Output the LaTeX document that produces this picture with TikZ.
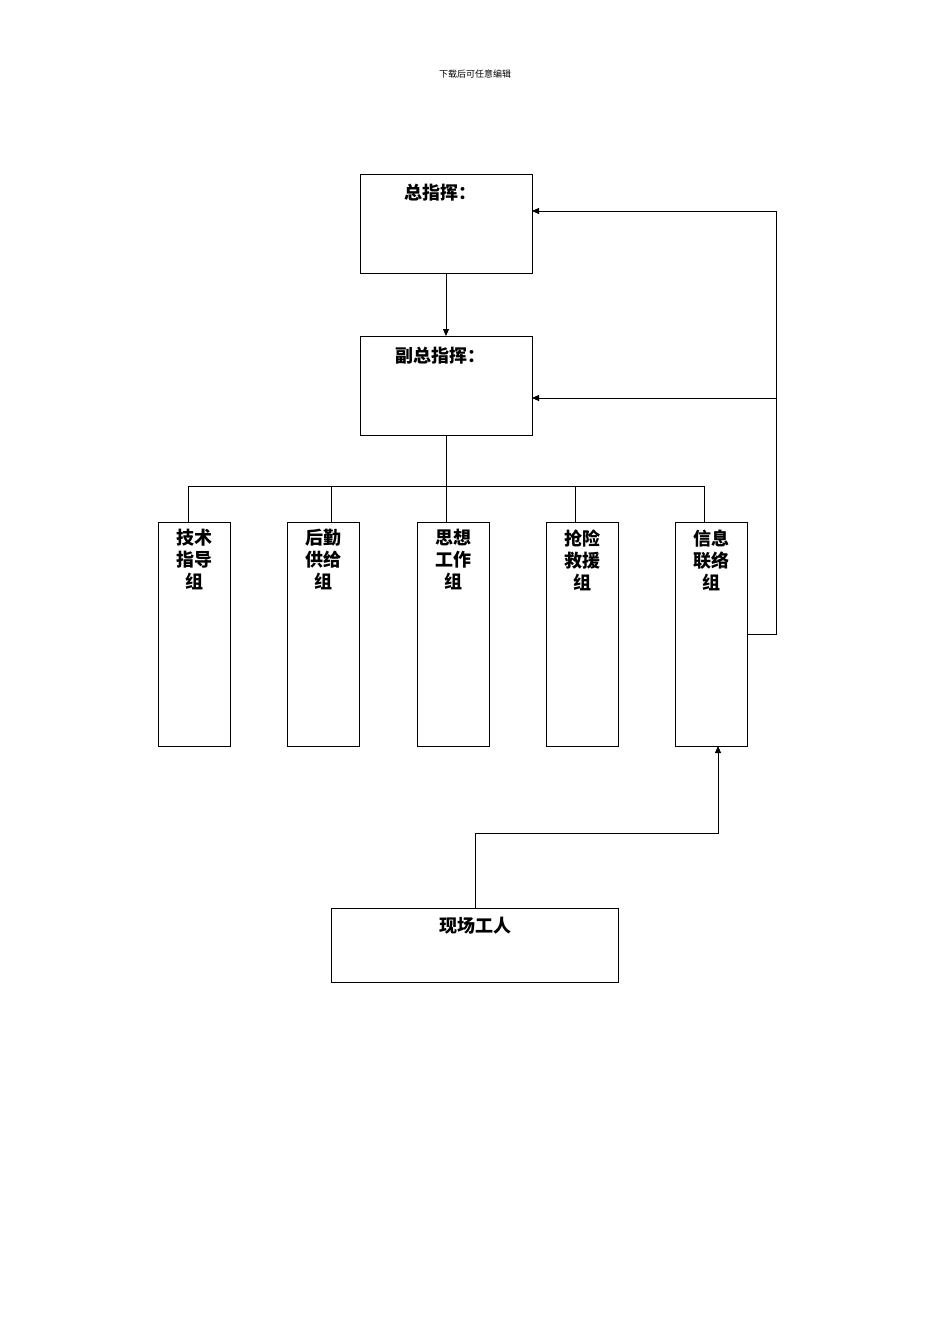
\documentclass[tikz,border=0pt]{standalone}
\usepackage{fontspec}
\newfontfamily\cjk{Noto Sans CJK SC}
\usetikzlibrary{arrows.meta}
\begin{document}
\begin{tikzpicture}[x=1pt,y=-1pt,
  box/.style={draw,line width=0.8pt,anchor=north west,inner sep=0pt},
  lbl/.style={font=\cjk\bfseries\fontsize{18}{21}\selectfont,anchor=north,align=center},
  ln/.style={line width=0.8pt},
  arr/.style={line width=0.8pt,-{Triangle[length=7pt,width=6pt]}}]
\useasboundingbox (0,0) rectangle (950,1344);
\node[font=\cjk\fontsize{9}{10}\selectfont] (hdr) at (475,74) {下载后可任意编辑};
\node[box,minimum width=172,minimum height=99] (a) at (360,174) {};
\node[lbl] (at) at (440,181) {总指挥：};
\node[box,minimum width=172,minimum height=99] (b) at (360,336) {};
\node[lbl] (bt) at (440,343) {副总指挥：};
\draw[arr] (446,273) -- (446,336);
\foreach \n/\x/\t in {c1/158/技术\\指导\\组, c2/287/后勤\\供给\\组, c3/417/思想\\工作\\组, c4/546/抢险\\救援\\组, c5/675/信息\\联络\\组}{
  \node[box,minimum width=72,minimum height=224] (\n) at (\x,522) {};
  \node[lbl,font=\cjk\bfseries\fontsize{18}{22}\selectfont] (\n t) at (\x+36,526) {\t};
}
\draw[ln] (446,435) -- (446,486);
\draw[ln] (188,522) -- (188,486) -- (704,486) -- (704,522);
\foreach \x in {331,446,575}{\draw[ln] (\x,486) -- (\x,522);}
\coordinate (r1) at (776,634);
\draw[ln] (747,634) -- (r1) -- (776,211);
\draw[arr] (776,211) -- (532,211);
\draw[arr] (776,398) -- (532,398);
\node[box,minimum width=287,minimum height=74] (w) at (331,908) {};
\node[lbl] (wt) at (475,914) {现场工人};
\draw[arr] (475,908) -- (475,833) -- (718,833) -- (718,746);
\end{tikzpicture}
\end{document}
